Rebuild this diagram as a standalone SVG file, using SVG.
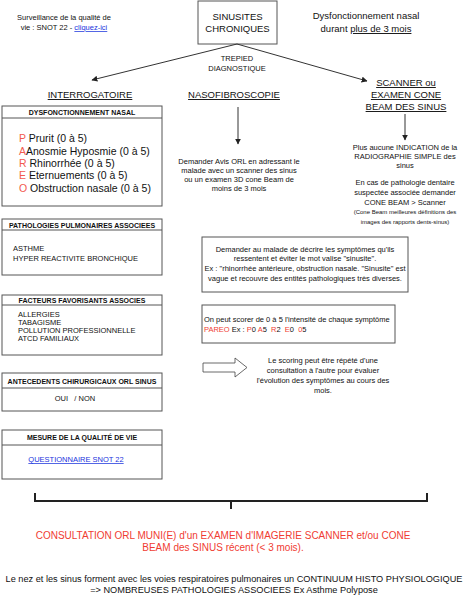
<svg xmlns="http://www.w3.org/2000/svg" width="470" height="600" viewBox="0 0 470 600">
<defs>
<marker id="ah" viewBox="0 0 10 10" refX="9" refY="5" markerWidth="6" markerHeight="6" orient="auto" markerUnits="userSpaceOnUse">
<path d="M0,0 L10,5 L0,10 z" fill="#222"/>
</marker>
</defs>
<style>
text{font-family:"Liberation Sans",Arial,sans-serif;fill:#111;white-space:pre}
.box{fill:#fff;stroke:#555;stroke-width:1}
.sep{stroke:#555;stroke-width:1}
.c{text-anchor:middle}
.s{font-size:7.5px}
.xs{font-size:6px}
.m{font-size:9.5px}
.h{font-size:7px;font-weight:bold}
.it{font-size:10.5px}
.red{fill:#f03c32}
.pk{fill:#f25a50}
.u{text-decoration:underline}
.lnk{fill:#1a33dd;text-decoration:underline}
.ln{stroke:#333;stroke-width:1;fill:none}
</style>
<rect width="470" height="600" fill="#fff"/>

<g id="notes">
<text class="s c" x="64" y="20">Surveillance de la qualité de</text>
<text class="s c" x="64" y="30">vie : SNOT 22 - <tspan class="lnk">cliquez-ici</tspan></text>
<text class="m c" x="366" y="19">Dysfonctionnement nasal</text>
<text class="m c" x="366" y="32">durant <tspan class="u">plus de 3 mois</tspan></text>
<text class="s c" x="237" y="61">TREPIED</text>
<text class="s c" x="237" y="71">DIAGNOSTIQUE</text>
</g>

<g id="sinusites">
<rect class="box" x="198" y="1" width="79" height="43"/>
<text class="m c" x="237.5" y="20">SINUSITES</text>
<text class="m c" x="237.5" y="32">CHRONIQUES</text>
</g>

<g id="heads">
<text class="m c u" x="90" y="98">INTERROGATOIRE</text>
<text class="m c u" x="234" y="98">NASOFIBROSCOPIE</text>
<text class="m c u" x="406" y="86">SCANNER ou</text>
<text class="m c u" x="406" y="98">EXAMEN CONE</text>
<text class="m c u" x="406" y="110">BEAM DES SINUS</text>
</g>

<g id="connectors">
<line class="ln" x1="237" y1="44" x2="92" y2="80" marker-end="url(#ah)"/>
<line class="ln" x1="237" y1="44" x2="367" y2="81" marker-end="url(#ah)"/>
<line class="ln" x1="238" y1="107" x2="238" y2="144" marker-end="url(#ah)"/>
<line class="ln" x1="405" y1="114" x2="405" y2="140" marker-end="url(#ah)"/>
<path d="M203,363 H235 V358 L247,367.5 L235,377 V372 H203 Z" fill="#fff" stroke="#444" stroke-width="0.8"/>
<path d="M35,493 V501 H427 V493 M231,501 V509" fill="none" stroke="#222" stroke-width="2"/>
</g>

<g id="dysfonctionnement">
<rect class="box" x="2" y="106" width="160" height="100"/>
<line class="sep" x1="2" y1="118" x2="162" y2="118"/>
<text class="h c" x="82" y="115">DYSFONCTIONNEMENT NASAL</text>
<text class="it" x="19" y="142"><tspan class="pk">P</tspan> Prurit (0 à 5)</text>
<text class="it" x="19" y="155"><tspan class="pk">A</tspan>Anosmie Hyposmie (0 à 5)</text>
<text class="it" x="19" y="167"><tspan class="pk">R</tspan> Rhinorrhée (0 à 5)</text>
<text class="it" x="19" y="179"><tspan class="pk">E</tspan> Eternuements (0 à 5)</text>
<text class="it" x="19" y="192"><tspan class="pk">O</tspan> Obstruction nasale (0 à 5)</text>
</g>

<g id="pathologies">
<rect class="box" x="2" y="219" width="160" height="56"/>
<line class="sep" x1="2" y1="230" x2="162" y2="230"/>
<text class="h c" x="82" y="228">PATHOLOGIES PULMONAIRES ASSOCIEES</text>
<text class="s" x="13" y="251">ASTHME</text>
<text class="s" x="13" y="261">HYPER REACTIVITE BRONCHIQUE</text>
</g>

<g id="facteurs">
<rect class="box" x="2" y="295" width="160" height="60"/>
<line class="sep" x1="2" y1="305" x2="162" y2="305"/>
<text class="h c" x="82" y="303">FACTEURS FAVORISANTS ASSOCIES</text>
<text class="s" x="18" y="317">ALLERGIES</text>
<text class="s" x="18" y="325">TABAGISME</text>
<text class="s" x="18" y="333">POLLUTION PROFESSIONNELLE</text>
<text class="s" x="18" y="341">ATCD FAMILIAUX</text>
</g>

<g id="antecedents">
<rect class="box" x="2" y="373" width="160" height="38"/>
<line class="sep" x1="2" y1="388" x2="162" y2="388"/>
<text class="h c" x="82" y="384">ANTECEDENTS CHIRURGICAUX ORL SINUS</text>
<text class="s c" x="75" y="401">OUI   / NON</text>
</g>

<g id="qualite">
<rect class="box" x="2" y="430" width="160" height="49"/>
<line class="sep" x1="2" y1="445" x2="162" y2="445"/>
<text class="h c" x="82" y="440">MESURE DE LA QUALITÉ DE VIE</text>
<text class="s c lnk" x="76" y="462">QUESTIONNAIRE SNOT 22</text>
</g>

<g id="nasofibro-text">
<text class="s c" x="239" y="164">Demander Avis ORL en adressant le</text>
<text class="s c" x="239" y="173">malade avec un scanner des sinus</text>
<text class="s c" x="239" y="182">ou un examen 3D cone Beam de</text>
<text class="s c" x="239" y="191">moins de 3 mois</text>
</g>

<g id="scanner-text">
<text class="s c" x="405" y="150">Plus aucune INDICATION de la</text>
<text class="s c" x="405" y="159">RADIOGRAPHIE SIMPLE des</text>
<text class="s c" x="405" y="168">sinus</text>
<text class="s c" x="405" y="185">En cas de pathologie dentaire</text>
<text class="s c" x="405" y="195">suspectée associée demander</text>
<text class="s c" x="405" y="205">CONE BEAM &gt; Scanner</text>
<text class="xs c" x="405" y="214">(Cone Beam meilleures définitions des</text>
<text class="xs c" x="405" y="224">images des rapports dents-sinus)</text>
</g>

<g id="decrire">
<rect class="box" x="202" y="237" width="206" height="55"/>
<text class="s c" x="305" y="252">Demander au malade de décrire les symptômes qu'ils</text>
<text class="s c" x="305" y="261">ressentent et éviter le mot valise "sinusite".</text>
<text class="s c" x="305" y="271">Ex : "rhinorrhée antérieure, obstruction nasale. "Sinusite" est</text>
<text class="s c" x="305" y="281">vague et recouvre des entités pathologiques très diverses.</text>
</g>

<g id="scorer">
<rect class="box" x="202" y="305" width="193" height="38"/>
<text class="s" x="204" y="322">On peut scorer de 0 à 5 l'intensité de chaque symptôme</text>
<text class="s" x="204" y="332"><tspan class="red">PAREO</tspan> Ex : <tspan class="red">P</tspan>0 <tspan class="red">A</tspan>5  <tspan class="red">R</tspan>2  <tspan class="red">E</tspan>0  <tspan class="red">0</tspan>5</text>
</g>

<g id="scoring-note">
<text class="s c" x="323" y="363">Le scoring peut être répété d'une</text>
<text class="s c" x="323" y="373">consultation à l'autre pour évaluer</text>
<text class="s c" x="323" y="383">l'évolution des symptômes au cours des</text>
<text class="s c" x="323" y="393">mois.</text>
</g>

<g id="consultation">
<text class="c red" style="font-size:10px" x="223" y="539">CONSULTATION ORL MUNI(E) d'un EXAMEN d'IMAGERIE SCANNER et/ou CONE</text>
<text class="c red" style="font-size:10px" x="223" y="551">BEAM des SINUS récent (&lt; 3 mois).</text>
</g>

<g id="footer">
<text class="c" style="font-size:9.2px" x="234" y="582">Le nez et les sinus forment avec les voies respiratoires pulmonaires un CONTINUUM HISTO PHYSIOLOGIQUE</text>
<text class="c" style="font-size:9.2px" x="234" y="593">=&gt; NOMBREUSES PATHOLOGIES ASSOCIEES Ex Asthme Polypose</text>
</g>
</svg>
